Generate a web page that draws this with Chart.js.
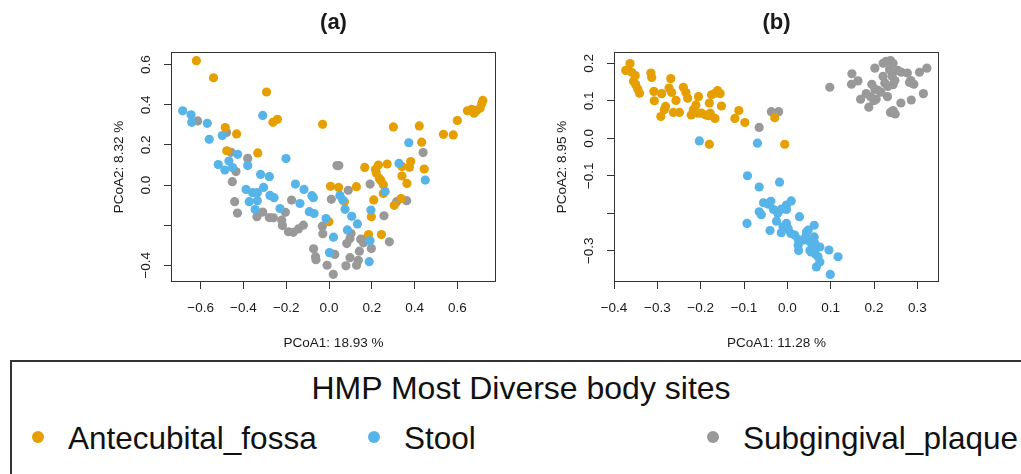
<!DOCTYPE html>
<html>
<head>
<meta charset="utf-8">
<script src="https://cdn.jsdelivr.net/npm/chart.js@4.4.1/dist/chart.umd.min.js"></script>
<style>
  body { margin: 0; width: 1021px; height: 474px; overflow: hidden; background: #fff; position: relative;
         font-family: "Liberation Sans", Arial, Helvetica, sans-serif; color: #111; }
  canvas { position: absolute; top: 0; }
  #chartA { left: 0; }
  #chartB { left: 510px; }
  #legend { position: absolute; left: 10px; top: 360px; width: 1100px; height: 200px;
            border: 2px solid #333; box-sizing: border-box; }
  .lg { position: absolute; white-space: nowrap; }
  .dot { position: absolute; width: 12px; height: 12px; border-radius: 50%; }
</style>
</head>
<body>
<canvas id="chartA" width="510" height="355"></canvas>
<canvas id="chartB" width="511" height="355"></canvas>
<div id="legend"></div>
<script>
const siteNames = ['Antecubital_fossa', 'Stool', 'Subgingival_plaque'];
const siteColors = ['#E69F00', '#56B4E9', '#999999'];
const legendTitle = 'HMP Most Diverse body sites';

// (a) PCoA1 x PCoA2
const fossaA = [
  [-0.62, 0.62], [-0.54, 0.535], [-0.292, 0.464], [-0.262, 0.313], [-0.241, 0.328], [-0.03, 0.303],
  [-0.485, 0.287], [-0.432, 0.255], [-0.478, 0.171], [-0.333, 0.16], [0.007, -0.006], [0.045, -0.012],
  [0.128, -0.008], [0.072, -0.083], [0.0, -0.183], [0.167, 0.088], [0.217, 0.078], [0.221, 0.06],
  [0.231, 0.1], [0.235, 0.033], [0.243, 0.022], [0.254, 0.002], [0.272, 0.105], [0.209, -0.074],
  [0.254, -0.042], [0.198, -0.158], [0.185, -0.247], [0.245, -0.247], [0.305, -0.101], [0.337, -0.067],
  [0.301, 0.29], [0.341, 0.092], [0.341, 0.045], [0.364, 0.008], [0.376, 0.089], [0.382, 0.117],
  [0.422, 0.295], [0.433, 0.214], [0.445, 0.08], [0.535, 0.253], [0.581, 0.25], [0.6, 0.322],
  [0.647, 0.37], [0.667, 0.378], [0.678, 0.358], [0.69, 0.372], [0.706, 0.383], [0.714, 0.405], [0.719, 0.422]
];
const stoolA = [
  [-0.684, 0.37], [-0.645, 0.35], [-0.642, 0.313], [-0.569, 0.308], [-0.56, 0.228], [-0.499, 0.247],
  [-0.31, 0.347], [-0.518, 0.102], [-0.487, 0.075], [-0.468, 0.12], [-0.451, 0.087], [-0.427, 0.153],
  [-0.38, 0.097], [-0.201, 0.132], [-0.32, 0.053], [-0.279, 0.042], [-0.388, -0.022], [-0.357, -0.038],
  [-0.335, -0.038], [-0.373, -0.083], [-0.335, -0.078], [-0.345, -0.122], [-0.306, -0.012], [-0.276, -0.052],
  [-0.257, -0.063], [-0.229, -0.117], [-0.157, 0.005], [-0.117, -0.022], [-0.136, -0.092], [-0.08, -0.053],
  [-0.073, -0.063], [-0.092, -0.133], [-0.07, -0.142], [-0.014, -0.167], [0.021, -0.26], [0.002, -0.337],
  [0.051, -0.052], [0.064, -0.075], [0.075, -0.121], [0.106, -0.156], [0.133, -0.194], [0.086, -0.224],
  [0.196, -0.125], [0.262, -0.032], [0.327, 0.108], [0.373, 0.211], [0.45, 0.025], [0.188, -0.382], [0.192, -0.278]
];
const plaqueA = [
  [-0.614, 0.32], [-0.479, 0.262], [-0.458, 0.163], [-0.38, 0.133], [-0.435, 0.067], [-0.452, 0.017],
  [-0.441, -0.083], [-0.428, -0.14], [-0.337, -0.158], [-0.31, -0.135], [-0.279, -0.162], [-0.26, -0.163],
  [-0.221, -0.175], [-0.218, -0.202], [-0.204, -0.136], [-0.175, -0.075], [-0.19, -0.233], [-0.167, -0.236],
  [-0.143, -0.219], [-0.12, -0.2], [-0.072, -0.318], [-0.063, -0.357], [-0.061, -0.372], [-0.031, -0.205],
  [-0.029, -0.243], [-0.009, -0.4], [0.011, -0.071], [0.02, -0.445], [0.027, -0.346], [0.037, 0.097],
  [0.046, 0.097], [0.079, -0.403], [0.09, -0.026], [0.083, -0.292], [0.098, -0.267], [0.103, -0.242],
  [0.098, -0.362], [0.129, -0.4], [0.137, -0.375], [0.142, -0.33], [0.148, -0.27], [0.161, -0.288],
  [0.171, -0.27], [0.198, -0.317], [0.192, 0.005], [0.257, -0.153], [0.282, -0.283], [0.316, -0.083],
  [0.363, -0.078], [0.44, 0.162]
];

// (b) PCoA1 x PCoA2
const fossaB = [
  [-0.363, 0.199], [-0.373, 0.181], [-0.359, 0.176], [-0.351, 0.167], [-0.355, 0.152], [-0.35, 0.143],
  [-0.345, 0.131], [-0.341, 0.12], [-0.315, 0.174], [-0.313, 0.162], [-0.308, 0.125], [-0.307, 0.1],
  [-0.29, 0.119], [-0.292, 0.058], [-0.284, 0.076], [-0.281, 0.085], [-0.269, 0.159], [-0.273, 0.134],
  [-0.267, 0.122], [-0.257, 0.101], [-0.263, 0.069], [-0.249, 0.069], [-0.24, 0.136], [-0.234, 0.122],
  [-0.23, 0.107], [-0.222, 0.062], [-0.217, 0.076], [-0.211, 0.089], [-0.205, 0.111], [-0.207, 0.067],
  [-0.198, 0.067], [-0.188, 0.062], [-0.18, 0.094], [-0.178, 0.067], [-0.175, 0.116], [-0.167, 0.12],
  [-0.161, 0.127], [-0.155, 0.119], [-0.152, 0.086], [-0.167, 0.053], [-0.182, 0.06], [-0.121, 0.053],
  [-0.112, 0.074], [-0.098, 0.042], [-0.18, -0.016], [-0.029, 0.055], [-0.006, -0.016]
];
const stoolB = [
  [-0.203, -0.007], [-0.069, -0.013], [-0.092, -0.1], [-0.065, -0.13], [-0.018, -0.117], [-0.055, -0.172],
  [-0.044, -0.176], [-0.038, -0.168], [-0.032, -0.19], [-0.065, -0.196], [-0.06, -0.204], [-0.093, -0.227],
  [-0.04, -0.246], [-0.025, -0.221], [-0.022, -0.2], [-0.014, -0.189], [-0.014, -0.252], [-0.01, -0.236],
  [-0.002, -0.178], [-0.002, -0.19], [-0.002, -0.227], [0.002, -0.241], [0.008, -0.254], [0.009, -0.167],
  [0.017, -0.258], [0.025, -0.27], [0.026, -0.299], [0.028, -0.209], [0.025, -0.285], [0.036, -0.272],
  [0.042, -0.263], [0.044, -0.25], [0.048, -0.245], [0.052, -0.276], [0.052, -0.299], [0.055, -0.303],
  [0.059, -0.29], [0.062, -0.232], [0.062, -0.263], [0.063, -0.279], [0.065, -0.309], [0.071, -0.316],
  [0.075, -0.29], [0.075, -0.33], [0.067, -0.343], [0.096, -0.298], [0.117, -0.316], [0.099, -0.363]
];
const plaqueB = [
  [-0.065, 0.029], [-0.037, 0.071], [-0.02, 0.071], [0.098, 0.136], [0.149, 0.172], [0.148, 0.144],
  [0.163, 0.153], [0.182, 0.119], [0.169, 0.104], [0.188, 0.083], [0.195, 0.144], [0.202, 0.187],
  [0.205, 0.104], [0.2, 0.1], [0.216, 0.123], [0.221, 0.165], [0.221, 0.2], [0.228, 0.205],
  [0.238, 0.207], [0.244, 0.2], [0.236, 0.183], [0.242, 0.165], [0.248, 0.154], [0.244, 0.143],
  [0.231, 0.111], [0.255, 0.181], [0.263, 0.176], [0.277, 0.174], [0.285, 0.154], [0.288, 0.147],
  [0.292, 0.144], [0.282, 0.149], [0.305, 0.176], [0.322, 0.187], [0.314, 0.119], [0.286, 0.102],
  [0.262, 0.094], [0.238, 0.069], [0.249, 0.065], [0.244, 0.074], [0.225, 0.147], [0.232, 0.138],
  [0.209, 0.128], [0.192, 0.111], [0.202, 0.131]
];

const xTicksA = [-0.6, -0.4, -0.2, 0, 0.2, 0.4, 0.6];
const yTicksA = [-0.4, -0.2, 0, 0.2, 0.4, 0.6];
const yLabelsA = ['\u22120.4', '', '0.0', '0.2', '0.4', '0.6'];
const xTicksB = [-0.4, -0.3, -0.2, -0.1, 0, 0.1, 0.2, 0.3];
const yTicksB = [-0.3, -0.2, -0.1, 0, 0.1, 0.2];
const yLabelsB = ['\u22120.3', '', '\u22120.1', '0.0', '0.1', '0.2'];

const fmt = v => (v < 0 ? '\u2212' : '') + Math.abs(v).toFixed(1);
const pts = arr => arr.map(p => ({ x: p[0], y: p[1] }));

// box, tick labels and titles in base-R style
const rAxes = {
  id: 'rAxes',
  afterDraw(chart, args, o) {
    const { ctx, chartArea: a, scales: { x, y } } = chart;
    ctx.save();
    ctx.strokeStyle = '#333';
    ctx.lineWidth = 1;
    ctx.strokeRect(a.left + 0.5, a.top + 0.5, a.right - a.left - 1, a.bottom - a.top - 1);

    ctx.fillStyle = '#1a1a1a';
    ctx.font = '13.5px "Liberation Sans", Arial, sans-serif';
    ctx.textAlign = 'center';
    ctx.textBaseline = 'middle';
    x.ticks.forEach(t => ctx.fillText(fmt(t.value), x.getPixelForValue(t.value), a.bottom + 26));
    y.ticks.forEach((t, i) => {
      ctx.save();
      ctx.translate(a.left - 25, y.getPixelForValue(t.value));
      ctx.rotate(-Math.PI / 2);
      ctx.fillText(o.yLabels[i], 0, 0);
      ctx.restore();
    });

    const cx = (a.left + a.right) / 2, cy = (a.top + a.bottom) / 2;
    ctx.fillText(o.xTitle, cx, a.bottom + 61);
    ctx.save();
    ctx.translate(a.left - 52, cy);
    ctx.rotate(-Math.PI / 2);
    ctx.fillText(o.yTitle, 0, 0);
    ctx.restore();

    ctx.font = 'bold 22px "Liberation Sans", Arial, sans-serif';
    ctx.fillText(o.title, cx, a.top - 29);
    ctx.restore();
  }
};

function panel(id, cfg) {
  const axis = (min, max, ticks, fit) => ({
    type: 'linear', min: min, max: max,
    afterBuildTicks: s => { s.ticks = ticks.map(v => ({ value: v })); },
    afterFit: fit,
    grid: { drawOnChartArea: false, drawTicks: true, tickLength: 7, tickColor: '#333', tickWidth: 1 },
    border: { display: false },
    ticks: { display: false }
  });
  return new Chart(document.getElementById(id), {
    type: 'scatter',
    data: {
      datasets: [
        { label: siteNames[1], data: pts(cfg.stool), backgroundColor: siteColors[1] },
        { label: siteNames[0], data: pts(cfg.fossa), backgroundColor: siteColors[0] },
        { label: siteNames[2], data: pts(cfg.plaque), backgroundColor: siteColors[2] }
      ]
    },
    options: {
      responsive: false,
      animation: false,
      events: [],
      elements: { point: { radius: 4.6, hoverRadius: 4.6, borderWidth: 0 } },
      layout: { autoPadding: false, padding: { left: 0, top: 52, right: cfg.right, bottom: 0 } },
      scales: {
        x: axis(cfg.xMin, cfg.xMax, cfg.xTicks, s => { s.height = 73; }),
        y: axis(cfg.yMin, cfg.yMax, cfg.yTicks, s => { s.width = cfg.left; })
      },
      plugins: {
        legend: { display: false },
        tooltip: { enabled: false },
        rAxes: { title: cfg.title, xTitle: cfg.xTitle, yTitle: cfg.yTitle, yLabels: cfg.yLabels }
      }
    },
    plugins: [rAxes]
  });
}

panel('chartA', {
  title: '(a)', xTitle: 'PCoA1: 18.93 %', yTitle: 'PCoA2: 8.32 %',
  fossa: fossaA, stool: stoolA, plaque: plaqueA,
  xMin: -0.7387, xMax: 0.7807, yMin: -0.4835, yMax: 0.6635,
  xTicks: xTicksA, yTicks: yTicksA, yLabels: yLabelsA,
  left: 171, right: 14
});
panel('chartB', {
  title: '(b)', xTitle: 'PCoA1: 11.28 %', yTitle: 'PCoA2: 8.95 %',
  fossa: fossaB, stool: stoolB, plaque: plaqueB,
  xMin: -0.4, xMax: 0.35, yMin: -0.3833, yMax: 0.23,
  xTicks: xTicksB, yTicks: yTicksB, yLabels: yLabelsB,
  left: 104, right: 82
});

// shared legend under both panels
const legend = document.getElementById('legend');
const addText = (txt, x, top, size) => {
  const el = document.createElement('div');
  el.className = 'lg';
  el.textContent = txt;
  el.style.font = size + 'px "Liberation Sans", Arial, sans-serif';
  el.style.lineHeight = size + 'px';
  el.style.left = x + 'px';
  el.style.top = top + 'px';
  document.body.appendChild(el);
  return el;
};
const head = addText(legendTitle, 0, 372, 32);
head.style.left = (521 - head.offsetWidth / 2) + 'px';
const itemX = [68, 404, 743];
[0, 1, 2].forEach(i => {
  addText(siteNames[i], itemX[i], 422.5, 31.5);
  const d = document.createElement('div');
  d.className = 'dot';
  d.style.background = siteColors[i];
  d.style.left = (itemX[i] - 36.5) + 'px';
  d.style.top = '431px';
  document.body.appendChild(d);
});
</script>
</body>
</html>
